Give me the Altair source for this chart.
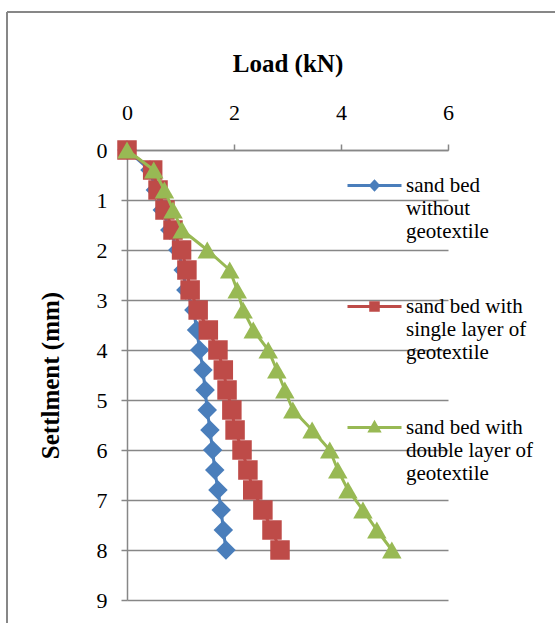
import altair as alt
import pandas as pd

# ---- data ----
settlement = [0.0, 0.4, 0.8, 1.2, 1.6, 2.0, 2.4, 2.8, 3.2, 3.6, 4.0,
              4.4, 4.8, 5.2, 5.6, 6.0, 6.4, 6.8, 7.2, 7.6, 8.0]
load_without = [0.0, 0.43, 0.53, 0.66, 0.80, 0.95, 1.05, 1.10, 1.25, 1.30, 1.36,
                1.42, 1.46, 1.50, 1.55, 1.60, 1.64, 1.70, 1.76, 1.80, 1.85]
load_single = [0.0, 0.48, 0.58, 0.71, 0.86, 1.02, 1.12, 1.18, 1.33, 1.52, 1.70,
               1.80, 1.87, 1.96, 2.02, 2.15, 2.26, 2.35, 2.54, 2.71, 2.86]
load_double = [0.0, 0.50, 0.70, 0.86, 1.03, 1.50, 1.92, 2.06, 2.17, 2.36, 2.64,
               2.80, 2.95, 3.10, 3.46, 3.79, 3.94, 4.13, 4.41, 4.67, 4.95]

series_names = ["sand bed without geotextile",
                "sand bed with single layer of geotextile",
                "sand bed with double layer of geotextile"]
legend_lines = [["sand bed", "without", "geotextile"],
                ["sand bed with", "single layer of", "geotextile"],
                ["sand bed with", "double layer of", "geotextile"]]
colors = ["#4A7EBB", "#BE4B48", "#98B954"]
shapes = ["diamond", "square", "triangle-up"]
# legend symbols: a line with the series marker on it (unit box [-1, 1])
legend_symbols = [
    "M-1,0H1M-0.14,0L0,-0.15L0.14,0L0,0.15Z",
    "M-1,0H1M-0.14,-0.14H0.14V0.14H-0.14Z",
    "M-1,0H1M-0.17,0.13L0,-0.17L0.17,0.13Z",
]
x_ticks = [0, 2, 4, 6]
y_ticks = [0, 1, 2, 3, 4, 5, 6, 7, 8, 9]

rows = []
for name, loads in zip(series_names, [load_without, load_single, load_double]):
    for s, l in zip(settlement, loads):
        rows.append({"series": name, "settlement": s, "load": l})
df = pd.DataFrame(rows)

FONT = "Liberation Serif"
GRAY = "#878787"

# legend label expression: multi-line labels
expr = "''"
for name, lines in reversed(list(zip(series_names, legend_lines))):
    arr = "[" + ",".join("'%s'" % t for t in lines) + "]"
    expr = f"datum.label == '{name}' ? {arr} : ({expr})"

color_scale = alt.Scale(domain=series_names, range=colors)
shape_scale = alt.Scale(domain=series_names, range=shapes)
legend_shape_scale = alt.Scale(domain=series_names, range=legend_symbols)

leg = alt.Legend(orient="none", legendX=219, legendY=7, title=None,
                 labelFont=FONT, labelFontSize=21, labelLimit=400,
                 labelExpr=expr, rowPadding=36, padding=0, labelOffset=3,
                 labelBaseline="middle", direction="vertical",
                 symbolSize=2916, symbolStrokeWidth=3, symbolOpacity=1)

base = alt.Chart(df).encode(
    x=alt.X("load:Q", scale=alt.Scale(domain=[0, 6], nice=False, zero=False),
            axis=alt.Axis(orient="top", values=x_ticks, title="Load (kN)",
                          grid=False, tickSize=6, labelPadding=20,
                          labelFlush=False,
                          labelFontSize=22, titleFontSize=25,
                          titleFontWeight="bold", titleY=-79,
                          titleBaseline="alphabetic")),
    y=alt.Y("settlement:Q",
            scale=alt.Scale(domain=[0, 9], reverse=True, nice=False, zero=False),
            axis=alt.Axis(values=y_ticks, title="Settlment (mm)", grid=True,
                          tickSize=6, labelPadding=14, labelFontSize=22,
                          labelFlush=False,
                          titleFontSize=25, titleFontWeight="bold",
                          titleX=-77, titleBaseline="middle")),
)

# each series drawn in turn (line, then its markers), like the original
series_layers = []
for name in series_names:
    sub = base.transform_filter(alt.datum.series == name)
    series_layers.append(sub.mark_line(strokeWidth=3).encode(
        color=alt.Color("series:N", scale=color_scale, legend=None),
        order=alt.Order("settlement:Q"),
    ))
    series_layers.append(sub.mark_point(filled=True, size=380, opacity=1).encode(
        color=alt.Color("series:N", scale=color_scale, legend=None),
        shape=alt.Shape("series:N", scale=shape_scale, legend=None),
    ))

# legend carrier: draws nothing, only provides the legend
legend_layer = base.mark_point(strokeWidth=3).encode(
    fill=alt.Fill("series:N", scale=color_scale, legend=leg),
    stroke=alt.Stroke("series:N", scale=color_scale, legend=leg),
    shape=alt.Shape("series:N", scale=legend_shape_scale, legend=leg),
).transform_filter("datum.load < 0")

frame_df = pd.DataFrame({"k": [0]})
frame_left = alt.Chart(frame_df).mark_rule(color=GRAY, strokeWidth=2).encode(
    x=alt.value(-120), y=alt.value(-138), y2=alt.value(473))
frame_top = alt.Chart(frame_df).mark_rule(color=GRAY, strokeWidth=2).encode(
    x=alt.value(-120), x2=alt.value(430), y=alt.value(-138))

chart = alt.layer(frame_left, frame_top, *series_layers, legend_layer).resolve_scale(
    shape="independent", fill="independent", stroke="independent"
).properties(
    width=321, height=450,
    autosize=alt.AutoSizeParams(type="none"),
    padding={"left": 127, "top": 150, "right": 107, "bottom": 23},
    background="white",
).configure_view(stroke=None).configure_axis(
    labelFont=FONT, titleFont=FONT, labelColor="black", titleColor="black",
    domainColor=GRAY, tickColor=GRAY, gridColor=GRAY,
    domainWidth=1.5, tickWidth=1.5, gridWidth=1.5,
)

chart.save("out.html", embed_options={"renderer": "svg", "actions": False})
